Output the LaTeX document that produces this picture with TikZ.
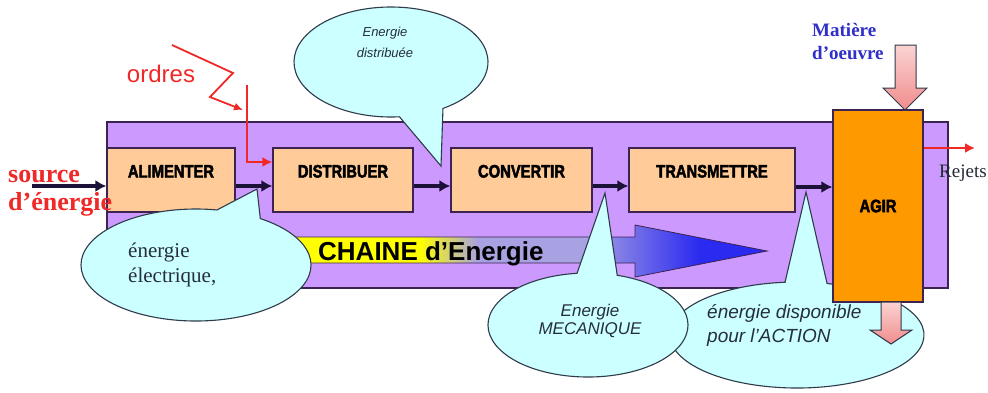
\documentclass[tikz,border=0pt]{standalone}
\usepackage{fontspec}
\setmainfont{Liberation Serif}
\setsansfont{Liberation Sans}
\newfontfamily\blocfont[FakeStretch=0.82,FakeBold=2.5]{Liberation Sans}
\usetikzlibrary{arrows.meta,calc}

\definecolor{violetfond}{HTML}{CC99FF}
\definecolor{bord}{HTML}{3D2352}
\definecolor{bloc}{HTML}{FFCC99}
\definecolor{orangeagir}{HTML}{FF9900}
\definecolor{ciel}{HTML}{CCFFFF}
\definecolor{contour}{HTML}{2F3B4A}
\definecolor{rouge}{HTML}{F02828}
\definecolor{bleutexte}{HTML}{3030C8}
\definecolor{flux}{HTML}{1C1238}
\definecolor{roseclair}{HTML}{FBD3D3}
\definecolor{saumon}{HTML}{F08C8C}
\definecolor{lavande}{HTML}{A9A2E2}
\definecolor{bleuvif}{HTML}{2A2AF0}

\pgfdeclarehorizontalshading{chaine}{100bp}{color(0bp)=(yellow); color(39bp)=(yellow); color(45bp)=(lavande); color(56bp)=(lavande); color(68bp)=(bleuvif); color(100bp)=(bleuvif)}

\tikzset{
    cadre/.style={draw=bord, fill=violetfond, line width=1.2pt, minimum width=841pt, minimum height=166pt},
    fonction/.style={draw=bord, fill=bloc, line width=1.2pt, minimum height=64pt,
        text height=13pt, text depth=18pt, inner ysep=16.5pt,
        font=\blocfont\bfseries\fontsize{18}{20}\selectfont},
    agirbox/.style={draw=bord, fill=orangeagir, line width=1.2pt, minimum width=90pt, minimum height=192pt,
        font=\blocfont\bfseries\fontsize{18}{20}\selectfont},
    bulle/.style={fill=ciel, draw=contour, line width=1.1pt},
    fleche/.style={flux, line width=3.6pt, -{Latex[length=11pt,width=12pt]}},
    ordre/.style={rouge, line width=2.8pt, -{Latex[length=10pt,width=10pt]}},
    matiere/.style={draw=contour, line width=1pt, top color=roseclair, bottom color=saumon},
    texteint/.style={font=\sffamily\itshape, text=contour!80!black, inner sep=0pt}
}

\begin{document}
\begin{tikzpicture}[x=1pt, y=-1pt]
    \path[use as bounding box, fill=white] (0,0) rectangle (988,392);

    % fond de la chaine
    \node[cadre] (cadre) at (527.5,205) {};

    \foreach \nom/\x/\w/\txt in {alim/171/128/ALIMENTER, distrib/343/140/DISTRIBUER, conv/521.5/141/CONVERTIR, trans/712/166/TRANSMETTRE}
        {
            \node[fonction, minimum width=\w pt] (\nom) at (\x,180) {\txt\hspace{14pt}};
        }

    % grande fleche
    \path[shading=chaine, draw=bord, line width=0.8pt]
        (285,237) -- (635,237) -- (635,225) -- (767,251) -- (635,277) -- (635,263) -- (285,263) -- cycle;
    \node[anchor=base west, inner sep=0pt, font=\sffamily\bfseries\fontsize{26}{28}\selectfont] (chaine) at (318,260) {CHAINE d'Energie};

    % bulles
    \coordinate (p1) at (441,166);
    \coordinate (p2) at (257,189);
    \coordinate (p3) at (806,192);
    \coordinate (p4) at (605,193);
    \path[bulle] ([shift={(85:97 and 55)}]391,62) arc[start angle=85, end angle=417.6, x radius=97, y radius=55] -- (p1) -- cycle;
    \path[bulle] ([shift={(304:115 and 56)}]196,265) arc[start angle=304, end angle=640.5, x radius=115, y radius=56] -- (p2) -- cycle;
    \path[bulle] ([shift={(283.7:127 and 53)}]797,335) arc[start angle=283.7, end angle=624.6, x radius=127, y radius=53] -- (p3) -- cycle;
    \path[bulle] ([shift={(287:100 and 52)}]588,325) arc[start angle=287, end angle=623.7, x radius=100, y radius=52] -- (p4) -- cycle;

    \node[texteint, align=center, anchor=north, font=\sffamily\itshape\fontsize{13}{21}\selectfont] (distribuee) at (385,27) {Energie\\distribuée};
    \node[anchor=north west, align=left, inner sep=0pt, text=contour!80!black, font=\fontsize{21}{25}\selectfont] (electrique) at (128,243) {énergie\\électrique,};
    \node[texteint, align=center, anchor=north, font=\sffamily\itshape\fontsize{17}{18}\selectfont] (mecanique) at (590,304) {Energie\\MECANIQUE};
    \node[texteint, align=left, anchor=north west, font=\sffamily\itshape\fontsize{19}{24}\selectfont] (action) at (707,304) {énergie disponible\\pour l'ACTION};

    % agir
    \node[agirbox] (agir) at (878,206) {AGIR};
    \path[matiere] (895,45) -- (916,45) -- (916,88) -- (927,88) -- (905,110) -- (883,88) -- (895,88) -- cycle;
    \path[matiere] (881,302) -- (901,302) -- (901,330) -- (912,330) -- (891,344) -- (870,330) -- (881,330) -- cycle;

    % fleches d'energie
    \coordinate (src) at (32,186);
    \draw[fleche] (src) -- ([yshift=-6pt]alim.west);
    \foreach \a/\b in {alim/distrib, distrib/conv, conv/trans}
        {
            \draw[fleche] ([yshift=-6pt]\a.east) -- ([yshift=-6pt]\b.west);
        }
    \draw[fleche] ([yshift=-7pt]trans.east) -- ([yshift=-7pt]trans.east -| agir.west);

    % ordres
    \node[anchor=base, inner sep=0pt, text=rouge, font=\sffamily\fontsize{24}{26}\selectfont] (ordres) at (161,82) {ordres};
    \coordinate (z0) at (172,45);
    \coordinate (z1) at (233,73);
    \coordinate (z2) at (210,97);
    \coordinate (z3) at (243,110);
    \draw[rouge, line width=1.8pt, -{Latex[length=9pt,width=8pt]}] (z0) -- (z1) -- (z2) -- (z3);
    \coordinate (o1) at (247,85);
    \draw[ordre] (o1) |- ([yshift=18pt]distrib.west);

    % rejets
    \coordinate (rej) at (975,148);
    \draw[ordre] ([yshift=58pt]agir.east) -- (rej);
    \node[anchor=base west, inner sep=0pt, text=contour!70!black, font=\fontsize{19}{20}\selectfont] (rejets) at (939,177) {Rejets};

    % textes d'entree
    \node[anchor=north west, align=left, inner sep=0pt, text=rouge, font=\bfseries\fontsize{26}{28}\selectfont] (source) at (8,170) {source\\d'énergie};
    \node[anchor=north west, align=left, inner sep=0pt, text=bleutexte, font=\bfseries\fontsize{19}{23}\selectfont] (matiere) at (812,23) {Matière\\d'oeuvre};

\end{tikzpicture}
\end{document}
